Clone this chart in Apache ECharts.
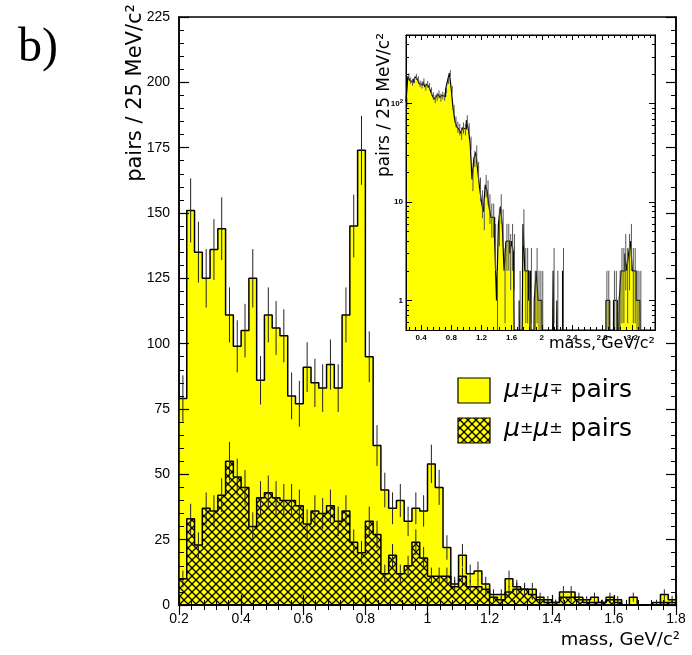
<!DOCTYPE html>
<html>
<head>
<meta charset="utf-8">
<script src="https://cdn.jsdelivr.net/npm/echarts@6/dist/echarts.min.js"></script>
<style>
  html, body { margin: 0; padding: 0; background: #fff; }
  #chart { width: 692px; height: 655px; }
</style>
</head>
<body>
<div id="chart"></div>
<script>
// Histogram binning: 25 MeV/c^2 bins starting at 0.2 GeV/c^2
const BIN_START = 0.2;
const BIN_WIDTH = 0.025;

// Opposite-sign dimuon pairs per bin, 0.2 - 1.8 GeV/c^2
const oppositeSign = [
  79, 151, 135, 125, 136, 144, 111, 99, 105, 125,
  86, 111, 106, 103, 80, 77, 91, 85, 83, 92,
  83, 111, 145, 174, 95, 61, 44, 37, 40, 32,
  37, 36, 54, 45, 22, 8, 19, 12, 13, 8,
  4, 4, 10, 7, 6, 6, 3, 2, 1, 5,
  5, 3, 2, 3, 1, 3, 2, 0, 3, 0,
  0, 1, 4, 2
];

// Like-sign dimuon pairs per bin, 0.2 - 1.8 GeV/c^2
const likeSign = [
  10, 33, 23, 37, 36, 42, 55, 49, 45, 30,
  41, 43, 41, 40, 40, 38, 31, 36, 35, 38,
  32, 36, 24, 20, 32, 27, 12, 19, 12, 15,
  24, 18, 11, 11, 11, 7, 11, 7, 7, 6,
  3, 2, 5, 6, 6, 4, 2, 1, 1, 3,
  3, 2, 1, 1, 1, 2, 1, 0, 0, 0,
  0, 0, 1, 1
];

// Full opposite-sign spectrum for the log-scale inset, 0.2 - 3.5 GeV/c^2
const fullSpectrum = [
  105, 190, 172, 165, 175, 188, 178, 160, 155, 168,
  148, 158, 150, 135, 120, 112, 118, 125, 116, 122,
  118, 140, 172, 205, 140, 88, 66, 58, 55, 50,
  57, 55, 68, 56, 40, 17, 28, 32, 21, 14,
  10, 8, 15, 13, 9, 7, 7, 4, 1, 6,
  9, 6, 2, 4, 4, 3, 4, 3, 0, 0,
  1, 0, 6, 2, 2, 1, 2, 0, 1, 2,
  1, 1, 1, 0, 0, 0, 0, 0, 2, 0,
  1, 0, 0, 2, 0, 0, 0, 0, 0, 0,
  0, 0, 0, 0, 0, 0, 0, 0, 0, 0,
  0, 0, 0, 0, 0, 0, 1, 1, 0, 0,
  1, 1, 0, 1, 2, 2, 3, 2, 3, 4,
  2, 2, 1, 1, 1, 0, 0, 0, 0, 0,
  0, 0
];

// Axis labels
const insetMassTicks = [0.4, 0.8, 1.2, 1.6, 2, 2.4, 2.8, 3.2];
const insetCountTicks = [1, 10, 100];

const FONT_TICK = 'Liberation Sans, Arial, sans-serif';
const FONT_TITLE = 'DejaVu Sans, sans-serif';

function edge(i) { return +(BIN_START + i * BIN_WIDTH).toFixed(4); }

// Step outline points: each value spans [edge(i), edge(i+1)]
function stepPoints(values, floor) {
  const pts = values.map((v, i) => [edge(i), floor != null && v <= 0 ? floor : v]);
  const last = values[values.length - 1];
  pts.push([edge(values.length), floor != null && last <= 0 ? floor : last]);
  return pts;
}
function centers(values) {
  return values.map((v, i) => [+(edge(i) + BIN_WIDTH / 2).toFixed(4), v]);
}

// Cross-hatch fill
function makeHatch() {
  const s = 8;
  const c = document.createElement('canvas');
  c.width = s; c.height = s;
  const g = c.getContext('2d');
  g.fillStyle = '#ffff00';
  g.fillRect(0, 0, s, s);
  g.strokeStyle = '#000';
  g.lineWidth = 1.3;
  g.beginPath();
  g.moveTo(-1, -1); g.lineTo(s + 1, s + 1);
  g.moveTo(-1, s + 1); g.lineTo(s + 1, -1);
  g.stroke();
  return c;
}
const hatch = { image: makeHatch(), repeat: 'repeat' };

function errorBarSeries(xi, yi, values, color, z, logFloor) {
  return {
    type: 'custom', xAxisIndex: xi, yAxisIndex: yi, z: z, clip: true, silent: true,
    data: centers(values),
    renderItem: function (params, api) {
      const c = api.value(0), v = api.value(1);
      if (!(v > 0)) return null;
      const e = Math.sqrt(v);
      let lo = v - e;
      if (logFloor != null && lo < logFloor) lo = logFloor;
      const p1 = api.coord([c, lo]);
      const p2 = api.coord([c, v + e]);
      return {
        type: 'line',
        shape: { x1: p1[0], y1: p1[1], x2: p2[0], y2: p2[1] },
        style: { stroke: color, lineWidth: 1 }
      };
    }
  };
}

const insetMinorX = [];
for (let k = 0; k <= 41; k++) {
  const m = +(0.24 + k * 0.08).toFixed(2);
  if (m < 3.5 && Math.abs(m / 0.4 - Math.round(m / 0.4)) > 1e-6) insetMinorX.push(m);
}
const insetMinorY = [0.6, 0.7, 0.8, 0.9];
[1, 10, 100].forEach(d => { for (let k = 2; k <= 9; k++) if (d * k < 500) insetMinorY.push(d * k); });

const blackLine = { show: true, lineStyle: { color: '#000', width: 1.5 } };

const mainX = (pos, labels) => ({
  gridIndex: 0, type: 'value', position: pos, min: 0.2, max: 1.8, interval: 0.2, z: 10,
  axisLine: blackLine, splitLine: { show: false },
  axisTick: { inside: true, length: 10, lineStyle: { color: '#000', width: 1.2 } },
  minorTick: { show: true, splitNumber: 5, length: 5, lineStyle: { color: '#000', width: 1 } },
  axisLabel: { show: labels, margin: 7, color: '#000', fontSize: 14, fontFamily: FONT_TICK }
});
const mainY = (pos, labels) => ({
  gridIndex: 0, type: 'value', position: pos, min: 0, max: 225, interval: 25, z: 10,
  axisLine: blackLine, splitLine: { show: false },
  axisTick: { inside: true, length: 10, lineStyle: { color: '#000', width: 1.2 } },
  minorTick: { show: true, splitNumber: 5, length: 5, lineStyle: { color: '#000', width: 1 } },
  axisLabel: { show: labels, margin: 9, color: '#000', fontSize: 14, fontFamily: FONT_TICK }
});
const insetX = (pos, ticks, len, labels) => ({
  gridIndex: 1, type: 'value', position: pos, min: 0.2, max: 3.5, z: 10,
  axisLine: { show: true, lineStyle: { color: '#000', width: 1 } }, splitLine: { show: false },
  axisTick: { inside: true, length: len, customValues: ticks, lineStyle: { color: '#000', width: 1 } },
  axisLabel: labels ? { show: true, customValues: ticks, margin: 4, color: '#000', fontSize: 8,
                        fontWeight: 'bold', fontFamily: FONT_TICK } : { show: false }
});
const insetY = (pos, ticks, len, labels) => ({
  gridIndex: 1, type: 'log', logBase: 10, position: pos, min: 0.5, max: 500, z: 10,
  axisLine: { show: true, lineStyle: { color: '#000', width: 1 } }, splitLine: { show: false },
  axisTick: { inside: true, length: len, customValues: ticks, lineStyle: { color: '#000', width: 1 } },
  axisLabel: labels ? {
    show: true, customValues: ticks, margin: 3, color: '#000', fontSize: 8, fontWeight: 'bold',
    fontFamily: FONT_TICK,
    formatter: v => (Math.abs(v - 100) < 1e-6 ? '10{s|2}' : String(Math.round(v))),
    rich: { s: { fontSize: 6, fontWeight: 'bold', fontFamily: FONT_TICK, padding: [0, 0, 5, 0] } }
  } : { show: false }
});

const legendRich = {
  m: { font: 'italic 25px ' + FONT_TITLE },
  s: { font: '16px ' + FONT_TITLE }
};

const option = {
  animation: false,
  backgroundColor: '#fff',
  grid: [
    { left: 179, top: 17, width: 497, height: 588, show: true, borderColor: '#000', borderWidth: 1.5 },
    { left: 406, top: 35, width: 249, height: 295, show: true, backgroundColor: '#fff',
      borderColor: '#000', borderWidth: 1 }
  ],
  xAxis: [
    mainX('bottom', true), mainX('top', false),
    insetX('bottom', insetMassTicks, 5, true), insetX('bottom', insetMinorX, 3, false),
    insetX('top', insetMassTicks, 5, false), insetX('top', insetMinorX, 3, false)
  ],
  yAxis: [
    mainY('left', true), mainY('right', false),
    insetY('left', insetCountTicks, 6, true), insetY('left', insetMinorY, 3, false),
    insetY('right', insetCountTicks, 6, false), insetY('right', insetMinorY, 3, false)
  ],
  series: [
    {
      name: 'opposite sign', type: 'line', xAxisIndex: 0, yAxisIndex: 0, step: 'end', symbol: 'none',
      z: 2, data: stepPoints(oppositeSign),
      lineStyle: { color: '#000', width: 1.5 },
      areaStyle: { color: '#ffff00', opacity: 1, origin: 'start' }
    },
    errorBarSeries(0, 0, oppositeSign, '#222', 3),
    {
      name: 'like sign', type: 'line', xAxisIndex: 0, yAxisIndex: 0, step: 'end', symbol: 'none',
      z: 4, data: stepPoints(likeSign),
      lineStyle: { color: '#000', width: 1.5 },
      areaStyle: { color: hatch, opacity: 1, origin: 'start' }
    },
    errorBarSeries(0, 0, likeSign, '#222', 5),
    {
      name: 'full spectrum', type: 'line', xAxisIndex: 2, yAxisIndex: 2, step: 'end', symbol: 'none',
      z: 2, data: stepPoints(fullSpectrum, 0.01),
      lineStyle: { color: '#000', width: 1.2 },
      areaStyle: { color: '#ffff00', opacity: 1, origin: 'start' }
    },
    errorBarSeries(2, 2, fullSpectrum, '#555', 3, 0.3)
  ],
  graphic: [
    { type: 'text', left: 18, top: 24, style: { text: 'b)', font: '48px "Liberation Serif", "DejaVu Serif", serif', fill: '#000' } },
    { type: 'text', x: 136, y: 4, rotation: Math.PI / 2,
      style: { text: 'pairs / 25 MeV/c²', font: '21px ' + FONT_TITLE, fill: '#000',
               align: 'right', verticalAlign: 'middle' } },
    { type: 'text', x: 680, y: 640,
      style: { text: 'mass, GeV/c²', font: '18px ' + FONT_TITLE, fill: '#000',
               align: 'right', verticalAlign: 'middle' } },
    { type: 'text', x: 385, y: 33, rotation: Math.PI / 2,
      style: { text: 'pairs / 25 MeV/c²', font: '17px ' + FONT_TITLE, fill: '#000',
               align: 'right', verticalAlign: 'middle' } },
    { type: 'text', x: 655, y: 344,
      style: { text: 'mass, GeV/c²', font: '16px ' + FONT_TITLE, fill: '#000',
               align: 'right', verticalAlign: 'middle' } },
    // legend
    { type: 'rect', shape: { x: 458, y: 378, width: 32, height: 25 },
      style: { fill: '#ffff00', stroke: '#000', lineWidth: 1.2 } },
    { type: 'rect', shape: { x: 458, y: 418, width: 32, height: 25 },
      style: { fill: hatch, stroke: '#000', lineWidth: 1.2 } },
    { type: 'text', x: 504, y: 390,
      style: { text: '{m|μ}{s|±}{m|μ}{s|∓} pairs', font: '25px ' + FONT_TITLE, fill: '#000',
               verticalAlign: 'middle', rich: legendRich } },
    { type: 'text', x: 504, y: 429,
      style: { text: '{m|μ}{s|±}{m|μ}{s|±} pairs', font: '25px ' + FONT_TITLE, fill: '#000',
               verticalAlign: 'middle', rich: legendRich } }
  ]
};

const chart = echarts.init(document.getElementById('chart'), null, { renderer: 'canvas' });
chart.setOption(option);
</script>
</body>
</html>
